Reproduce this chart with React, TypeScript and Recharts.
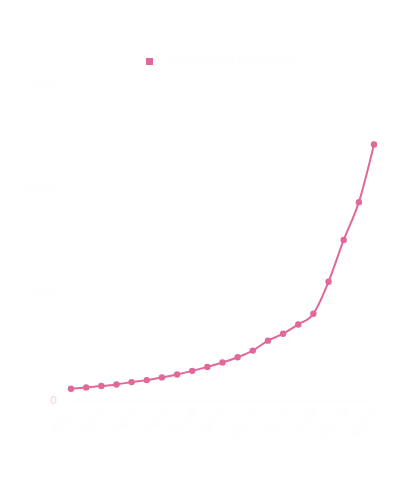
import { LineChart, Line, XAxis, YAxis, Legend, CartesianGrid } from "recharts";

const days = [
  "Day 1", "Day 2", "Day 3", "Day 4", "Day 5", "Day 6", "Day 7",
  "Day 8", "Day 9", "Day 10", "Day 11", "Day 12", "Day 13", "Day 14",
  "Day 15", "Day 16", "Day 17", "Day 18", "Day 19", "Day 20", "Day 21",
];
const totals = [
  530, 595, 657, 736, 844, 938, 1065, 1205, 1374, 1562, 1768,
  2017, 2331, 2800, 3128, 3564, 4066, 5581, 7551, 9333, 12053,
];
const yTicks = [0, 5000, 10000, 15000];

const data = days.map((day, i) => ({ day, total: totals[i] }));

const pink = "#e0699a";
const faint = "#fffcfd";

// the zero label is just barely tinted in the original
function YTick(props: any) {
  const { x, y, payload } = props;
  return (
    <text
      x={x - 6}
      y={y}
      dy={4}
      textAnchor="end"
      fontSize={11}
      fontFamily="Inter"
      fill={payload.value === 0 ? "#f6d3e0" : faint}
    >
      {payload.value}
    </text>
  );
}

export default function App() {
  return (
    <LineChart
      width={384}
      height={484}
      data={data}
      margin={{ top: 20, right: 18, left: 3, bottom: 30 }}
    >
      <CartesianGrid stroke="#ffffff" vertical={false} />
      <Legend
        verticalAlign="top"
        height={54}
        iconType="square"
        iconSize={7}
        wrapperStyle={{ top: 45, left: 68, width: 303, fontFamily: "Inter", fontSize: 12 }}
        formatter={(v) => <span style={{ color: faint, marginLeft: 14 }}>{v}</span>}
      />
      <XAxis
        dataKey="day"
        interval={1}
        angle={-45}
        textAnchor="end"
        height={62}
        tick={{ fontSize: 11, fill: faint, fontFamily: "Inter" }}
        axisLine={{ stroke: "#fafafa" }}
        tickLine={false}
      />
      <YAxis
        width={60}
        domain={[0, 15000]}
        ticks={yTicks}
        tick={<YTick />}
        axisLine={false}
        tickLine={false}
      />
      <Line
        type="monotone"
        dataKey="total"
        name="Cumulative total cases"
        stroke={pink}
        strokeWidth={2}
        dot={{ r: 2.2, fill: pink, stroke: pink }}
        isAnimationActive={false}
      />
    </LineChart>
  );
}
